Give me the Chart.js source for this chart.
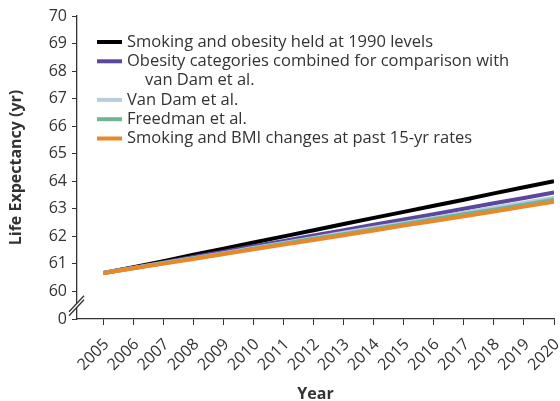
<!DOCTYPE html>
<html>
<head>
<meta charset="utf-8">
<script src="https://cdn.jsdelivr.net/npm/chart.js@4.4.0/dist/chart.umd.min.js"></script>
<style>
  html, body { margin: 0; padding: 0; background: #fff; }
  #chart { display: block; }
</style>
</head>
<body>
<canvas id="chart" width="560" height="401"></canvas>
<script>
// Projected life expectancy, 2005-2020, under several scenarios
const years = [2005, 2006, 2007, 2008, 2009, 2010, 2011, 2012, 2013, 2014, 2015, 2016, 2017, 2018, 2019, 2020];

const heldAt1990 = [60.67, 60.88, 61.10, 61.33, 61.55, 61.78, 62.00, 62.22, 62.45, 62.67, 62.89, 63.11, 63.33, 63.56, 63.78, 64.00];
const obesityCombined = [60.67, 60.86, 61.05, 61.25, 61.44, 61.64, 61.83, 62.03, 62.22, 62.42, 62.61, 62.80, 63.00, 63.20, 63.39, 63.59];
const vanDam = [60.67, 60.85, 61.03, 61.21, 61.39, 61.58, 61.76, 61.94, 62.13, 62.31, 62.49, 62.67, 62.86, 63.04, 63.22, 63.40];
const freedman = [60.67, 60.84, 61.02, 61.20, 61.37, 61.55, 61.73, 61.91, 62.08, 62.26, 62.44, 62.62, 62.80, 62.97, 63.15, 63.33];
const pastRates = [60.67, 60.84, 61.01, 61.18, 61.36, 61.53, 61.70, 61.87, 62.04, 62.21, 62.39, 62.56, 62.73, 62.90, 63.08, 63.26];

const seriesLabels = [
  ['Smoking and obesity held at 1990 levels'],
  ['Obesity categories combined for comparison with', 'van Dam et al.'],
  ['Van Dam et al.'],
  ['Freedman et al.'],
  ['Smoking and BMI changes at past 15-yr rates']
];
const seriesValues = [heldAt1990, obesityCombined, vanDam, freedman, pastRates];
const seriesColors = ['#000000', '#5b479e', '#b9cde0', '#6db595', '#e8882a'];

// y axis: 59 stands in for the broken-off 0
const yTicks = [59, 60, 61, 62, 63, 64, 65, 66, 67, 68, 69, 70];

const FONT = '"Open Sans", "DejaVu Sans", sans-serif';
const INK = '#333333';

const datasets = seriesValues.map((vals, i) => ({
  label: seriesLabels[i].join(' '),
  data: years.map((y, j) => ({ x: y, y: vals[j] })),
  borderColor: seriesColors[i],
  backgroundColor: seriesColors[i],
  borderWidth: 4,
  pointRadius: 0,
  tension: 0,
  order: seriesValues.length - i
}));

// Legend drawn inside the plot, with a wrapped second line
const legendPlugin = {
  id: 'insideLegend',
  afterDraw(chart) {
    const ctx = chart.ctx;
    ctx.save();
    ctx.font = '16.5px ' + FONT;
    ctx.fillStyle = INK;
    ctx.textBaseline = 'middle';
    let y = 42;
    const rowH = 19.3;
    seriesLabels.forEach((lines, i) => {
      ctx.strokeStyle = seriesColors[i];
      ctx.lineWidth = 4;
      ctx.beginPath();
      ctx.moveTo(97, y);
      ctx.lineTo(122, y);
      ctx.stroke();
      lines.forEach((t, k) => {
        ctx.fillText(t, k === 0 ? 127 : 145, y);
        y += rowH;
      });
    });
    ctx.restore();
  }
};

// Axis break marks between 0 and 60
const breakPlugin = {
  id: 'axisBreak',
  afterDraw(chart) {
    const ys = chart.scales.y;
    const ctx = chart.ctx;
    const x = ys.right;
    const cy = ys.getPixelForValue(59.5);
    ctx.save();
    ctx.fillStyle = '#fff';
    ctx.beginPath();
    ctx.moveTo(x - 7, cy + 5.5);
    ctx.lineTo(x + 6, cy - 8.5);
    ctx.lineTo(x + 6, cy - 4.5);
    ctx.lineTo(x - 7, cy + 9.5);
    ctx.closePath();
    ctx.fill();
    ctx.strokeStyle = INK;
    ctx.lineWidth = 1.3;
    [[0, 0], [0, 4]].forEach(([dx, dy]) => {
      ctx.beginPath();
      ctx.moveTo(x - 8 + dx, cy + 6.5 + dy);
      ctx.lineTo(x + 7 + dx, cy - 9.5 + dy);
      ctx.stroke();
    });
    ctx.restore();
  }
};

new Chart(document.getElementById('chart'), {
  type: 'line',
  data: { datasets },
  options: {
    responsive: false,
    animation: false,
    layout: { padding: { top: 16, right: 6, left: 0, bottom: 0 } },
    plugins: { legend: { display: false }, tooltip: { enabled: false } },
    scales: {
      x: {
        type: 'linear',
        min: 2004.12,
        max: 2020,
        afterBuildTicks: s => { s.ticks = years.map(v => ({ value: v })); },
        afterFit: s => { s.height = 82; s.paddingLeft = 0; s.paddingRight = 0; },
        grid: { drawOnChartArea: false, tickLength: 6, color: INK, tickColor: INK },
        border: { color: INK, width: 1.3 },
        ticks: {
          color: INK,
          font: { family: FONT, size: 16 },
          minRotation: 45,
          maxRotation: 45,
          padding: 10,
          labelOffset: 3,
          autoSkip: false,
          callback: v => String(v)
        },
        title: {
          display: true,
          text: 'Year',
          color: INK,
          font: { family: FONT, size: 16, weight: 'bold' },
          padding: { top: 0, bottom: -3 }
        }
      },
      y: {
        type: 'linear',
        min: 59,
        max: 70,
        afterBuildTicks: s => { s.ticks = yTicks.map(v => ({ value: v })); },
        afterFit: s => { s.width = 77; },
        grid: { drawOnChartArea: false, tickLength: 5, color: INK, tickColor: INK },
        border: { color: INK, width: 1.3 },
        ticks: {
          color: INK,
          font: { family: FONT, size: 16 },
          padding: 5,
          callback: v => (v === 59 ? '0' : String(v))
        },
        title: {
          display: true,
          text: 'Life Expectancy (yr)',
          color: INK,
          font: { family: FONT, size: 16, weight: 'bold' },
          padding: { top: 7, bottom: 0 }
        }
      }
    }
  },
  plugins: [legendPlugin, breakPlugin]
});
</script>
</body>
</html>
